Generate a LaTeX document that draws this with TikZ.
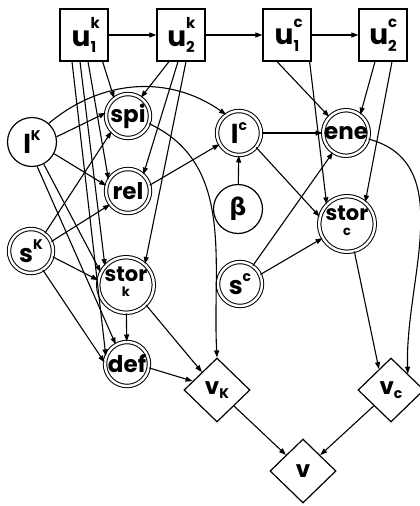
\documentclass[tikz,border=0pt]{standalone}
\usepackage{fontspec}
\setmainfont{Poppins}
\newfontfamily\greekfont{DejaVu Sans}
\usetikzlibrary{arrows.meta,shapes.geometric}

% letter with a superscript and a subscript stacked to its right
\newcommand\supsub[3]{#1\rlap{\raisebox{0.62em}{\fontsize{15}{15}\selectfont #2}}\raisebox{-0.22em}{\fontsize{15}{15}\selectfont #3}}
% letter with a superscript only
\newcommand\supon[2]{#1\raisebox{0.5em}{\fontsize{14}{14}\selectfont #2}}
% letter with a subscript only
\newcommand\subon[2]{#1\raisebox{-0.2em}{\fontsize{14}{14}\selectfont #2}}
% word with a small index set below it
\newcommand\under[2]{\begin{tabular}{@{}c@{}}#1\\[-6pt]{\fontsize{13}{13}\selectfont #2}\end{tabular}}

\begin{document}
\begin{tikzpicture}[x=1pt,y=1pt,
  >={Triangle[length=7pt,width=5pt]},
  every node/.style={inner sep=0pt},
  dec/.style={draw, line width=1.2pt, minimum width=48pt, minimum height=52pt,
    font=\bfseries\fontsize{28}{28}\selectfont},
  chance/.style={circle, draw, line width=1.2pt, minimum size=49pt,
    font=\bfseries\fontsize{26}{26}\selectfont},
  dchance/.style={circle, draw, line width=1pt, double, double distance=2.4pt,
    minimum size=44pt, font=\bfseries\fontsize{23}{23}\selectfont},
  val/.style={diamond, draw, line width=1.2pt, minimum width=66pt, minimum height=64pt,
    font=\bfseries\fontsize{23}{23}\selectfont},
  link/.style={->, line width=1.1pt}]

\useasboundingbox (0,0) rectangle (420,-506);

% decision boxes
\node[dec] (u1k) at (84,-35)  {\supsub{u}{k}{1}};
\node[dec] (u2k) at (181,-35) {\supsub{u}{k}{2}};
\node[dec] (u1c) at (287,-35) {\supsub{u}{c}{1}};
\node[dec] (u2c) at (383,-35) {\supsub{u}{c}{2}};

% chance nodes
\node[chance]  (lK)    at (32,-142)  {\supon{l}{K}};
\node[dchance] (spi)   at (128,-116) {spi};
\node[dchance] (rel)   at (128,-191) {rel};
\node[dchance] (sK)    at (31,-251)  {\fontsize{25}{25}\selectfont\supon{s}{K}};
\node[dchance] (stork) at (126,-285) {\fontsize{21}{21}\selectfont\under{stor}{k}};
\node[dchance] (def)   at (127,-364) {def};
\node[dchance] (lC)    at (239,-133) {\fontsize{26}{26}\selectfont\supon{l}{c}};
\node[chance]  (beta)  at (238,-209) {\greekfont\fontsize{24}{24}\selectfont β};
\node[dchance] (sC)    at (240,-284) {\fontsize{25}{25}\selectfont\supon{s}{c}};
\node[dchance] (ene)   at (346,-133) {ene};
\node[dchance] (storc) at (347,-224) {\fontsize{21}{21}\selectfont\under{stor}{c}};

% value nodes
\node[val] (vk) at (217,-390) {\subon{v}{K}};
\node[val] (vc) at (391,-390) {\subon{v}{c}};
\node[val] (v)  at (303,-471) {v};

% decision sequence
\draw[link] (u1k) -- (u2k);
\draw[link] (u2k) -- (u1c);
\draw[link] (u1c) -- (u2c);

% influences of the first group
\draw[link] ([xshift=-6pt]u1k.south east) -- (spi.128);
\draw[link] ([xshift=4pt]u1k.south) -- (rel.150);
\draw[link] ([xshift=-4pt]u1k.south) -- (stork.138);
\draw[link] ([xshift=-12pt]u1k.south) -- (def.160);
\draw[link] ([xshift=-12pt]u2k.south) -- (spi.55);
\draw[link] ([xshift=-3pt]u2k.south) -- (rel.47);
\draw[link] ([xshift=5pt]u2k.south) -- (stork.48);
\draw[link] (lK.12) -- (spi.172);
\draw[link] (lK.-28) -- (rel.166);
\draw[link] (lK.-62) -- (stork.153);
\draw[link] (lK.-78) -- (def.120);
\draw[link] (sK.52) -- (spi.-137);
\draw[link] (sK.25) -- (rel.-143);
\draw[link] (sK.-15) -- (stork.170);
\draw[link] (sK.-58) -- (def.176);
\draw[link] (lK.48) to[out=40,in=145] (lC.125);
\draw[link] (rel.15) -- (lC.-150);
\draw[link] (stork) -- (def);

% influences of the second group
\draw[link] ([xshift=-10pt]u1c.south) -- (ene.136);
\draw[link] ([xshift=-2pt]u1c.south east) -- (storc.136);
\draw[link] ([xshift=-8pt]u2c.south) -- (ene.52);
\draw[link] ([xshift=9pt]u2c.south) -- (storc.50);
\draw[link] (beta) -- (lC);
\draw[link] (lC) -- (ene);
\draw[link] (lC.-40) -- (storc.165);
\draw[link] (sC.55) -- (ene.-124);
\draw[link] (sC.25) -- (storc.-150);

% values
\draw[link] (spi.-20) to[out=-25,in=93] (vk.north);
\draw[link] (stork.-45) -- (vk.130);
\draw[link] (def.-10) -- (vk.160);
\draw[link] (ene.-15) to[out=-15,in=92] (vc.north east);
\draw[link] (storc.-75) -- (vc.120);
\draw[link] (vk) -- (v);
\draw[link] (vc) -- (v);
\end{tikzpicture}
\end{document}
